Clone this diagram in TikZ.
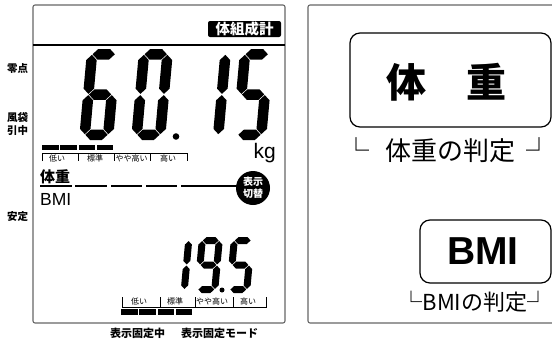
\documentclass[tikz,border=0pt]{standalone}
\usepackage{fontspec}
\setmainfont{Liberation Sans}
\newfontfamily\jp{Noto Sans CJK JP}
\usepackage{tikz}

% LCD segments (local units, v up from the baseline)
\newcommand{\hseg}[3]{\fill ({#1+\sg},{#3}) -- ({#1+\sg+\st},{#3+\st}) -- ({#2-\sg-\st},{#3+\st}) -- ({#2-\sg},{#3}) -- ({#2-\sg-\st},{#3-\st}) -- ({#1+\sg+\st},{#3-\st}) -- cycle;}
\newcommand{\vseg}[3]{\fill ({#1},{#2+\sg}) -- ({#1+\st},{#2+\sg+\st}) -- ({#1+\st},{#3-\sg-\st}) -- ({#1},{#3-\sg}) -- ({#1-\st},{#3-\sg-\st}) -- ({#1-\st},{#2+\sg+\st}) -- cycle;}
\newcommand{\lcddigit}[6]{%
  \begin{scope}[shift={(#1,#2)}, xslant=0.09, yscale=-1]
    \pgfmathsetmacro\st{#5/2}
    \def\sg{0.6}
    \pgfmathsetmacro\xl{\st}
    \pgfmathsetmacro\xr{#3-\st}
    \pgfmathsetmacro\yb{\st}
    \pgfmathsetmacro\ym{#4/2}
    \pgfmathsetmacro\yt{#4-\st}
    \foreach \s in {#6} {
      \if\s a\hseg{\xl}{\xr}{\yt}\fi
      \if\s b\vseg{\xr}{\ym}{\yt}\fi
      \if\s c\vseg{\xr}{\yb}{\ym}\fi
      \if\s d\hseg{\xl}{\xr}{\yb}\fi
      \if\s e\vseg{\xl}{\yb}{\ym}\fi
      \if\s f\vseg{\xl}{\ym}{\yt}\fi
      \if\s g\hseg{\xl}{\xr}{\ym}\fi
    }
  \end{scope}}

\begin{document}
\begin{tikzpicture}[x=1pt, y=-1pt,
    panel/.style={draw=black!60, line width=1.1pt, rounded corners=2pt},
    judge_box/.style={draw, line width=1.2pt, rounded corners=10pt},
    side/.style={font=\jp\bfseries\fontsize{10.5}{11}\selectfont, inner sep=0pt},
    scale_lbl/.style={font=\jp\fontsize{8}{8}\selectfont, inner sep=0pt},
    footer/.style={font=\jp\bfseries\fontsize{11}{11}\selectfont, inner sep=0pt},
    tick/.style={line width=0.9pt},
    lcd_line/.style={line width=2pt}
]
    \useasboundingbox (0,0) rectangle (552,343);
    \clip (0,0) rectangle (552,343);

    % Left panel: display
    \draw[panel] (33,5) rectangle (285,323);
    \draw[lcd_line] (33,45) -- (285,45);
    \node[fill=black, rounded corners=2pt, minimum width=73pt, minimum height=16pt, inner sep=0pt,
          text=white, font=\jp\bfseries\fontsize{14.5}{15}\selectfont] (title) at (244.5,29) {体組成計};

    % Side marks
    \node[side] (zero) at (17.5,69) {零点};
    \node[side] (tare1) at (17.5,117.5) {風袋};
    \node[side] (tare2) at (17.5,131) {引中};
    \node[side] (stable) at (17.5,217) {安定};

    % Weight digits
    \lcddigit{79}{140}{34}{91}{10.5}{a,c,d,e,f,g}
    \lcddigit{131}{140}{34}{91}{10.5}{a,b,c,d,e,f}
    \fill (176,136.5) circle (3.3pt);
    \lcddigit{189}{140}{34}{91}{10.5}{b,c}
    \lcddigit{232}{140}{34}{91}{10.5}{a,c,d,f,g}
    \node[font=\fontsize{21}{21}\selectfont, anchor=south east, inner sep=0pt] (kg) at (276,163) {kg};

    % Weight scale
    \foreach \i in {0,...,3}
        \fill ({42+18.25*\i},145) rectangle ++(16.5,5);
    \draw[tick] (42,161) -- (42,153) -- (187,153) -- (187,161);
    \foreach \x in {78,114,150}
        \draw[tick] (\x,153) -- (\x,161);
    \node[scale_lbl] (wlow) at (57,158) {低い};
    \node[scale_lbl] (wnorm) at (95,158) {標準};
    \node[scale_lbl] (wmid) at (131.5,158) {やや高い};
    \node[scale_lbl] (whigh) at (168,158) {高い};

    % Mode labels
    \node[font=\jp\bfseries\fontsize{15}{15}\selectfont, anchor=west, inner sep=0pt] (wlabel) at (40,176.5) {体重};
    \node[font=\fontsize{17.5}{17.5}\selectfont, anchor=west, inner sep=0pt] (blabel) at (40,199) {BMI};
    \foreach \a/\b in {40/72,75/107,111/142,146/177,181/237}
        \draw[lcd_line] (\a,186) -- (\b,186);
    \node[circle, fill=black, minimum size=34pt, inner sep=0pt, text=white, align=center,
          font=\jp\bfseries\fontsize{10}{12}\selectfont] (switch) at (253,188) {表示\\切替};

    % BMI digits
    \lcddigit{163.5}{293}{24}{56}{7}{b,c}
    \lcddigit{194}{293}{24}{56}{7}{a,b,c,d,f,g}
    \fill (222,290) circle (2.5pt);
    \lcddigit{226}{293}{24}{56}{7}{a,c,d,f,g}

    % BMI scale
    \draw[tick] (122,297) -- (122,307) -- (266,307) -- (266,297);
    \foreach \x in {160,195,233}
        \draw[tick] (\x,297) -- (\x,307);
    \node[scale_lbl] (blow) at (139,301.5) {低い};
    \node[scale_lbl] (bnorm) at (175,301.5) {標準};
    \node[scale_lbl] (bmid) at (212,301.5) {やや高い};
    \node[scale_lbl] (bhigh) at (248,301.5) {高い};
    \foreach \i in {0,...,3}
        \fill ({121+18.25*\i},309) rectangle ++(16.5,6);

    % Footer
    \node[footer] (hold) at (137.5,333) {表示固定中};
    \node[footer] (holdmode) at (219.5,333) {表示固定モード};

    % Right panel: judgement
    \draw[panel] (308,5) rectangle (570,323);
    \draw[judge_box] (350,33) rectangle (551,127);
    \node[font=\jp\bfseries\fontsize{40}{40}\selectfont] (weight) at (446,82.5) {体　重};
    \node[font=\jp\fontsize{26}{26}\selectfont, anchor=base] (wjudge) at (448,160) {└\hspace{17pt}体重の判定\hspace{11pt}┘};
    \draw[judge_box] (420,220) rectangle (551,283);
    \node[font=\bfseries\fontsize{39}{39}\selectfont, inner sep=0pt] (bmi) at (483,251) {BMI};
    \node[font=\jp\fontsize{22}{22}\selectfont, anchor=base, inner sep=0pt] (bjudge) at (475,310) {└BMIの判定┘};
\end{tikzpicture}
\end{document}
